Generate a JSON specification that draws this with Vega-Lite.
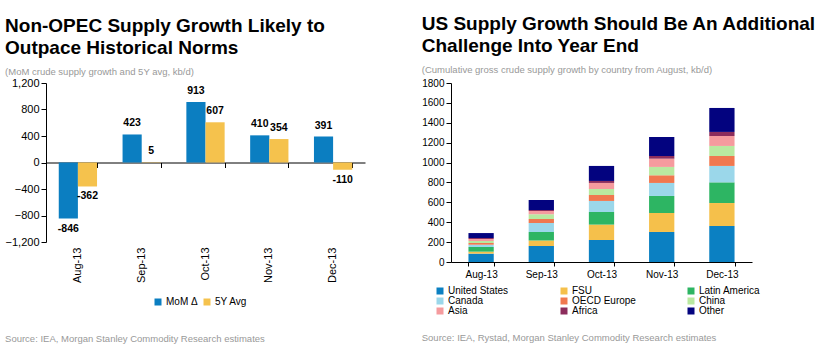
{
  "$schema": "https://vega.github.io/schema/vega-lite/v6.json",
  "background": "white",
  "padding": {"left": 5, "top": 15, "right": 2, "bottom": 2},
  "spacing": 56,
  "resolve": {"scale": {"color": "independent"}, "legend": {"color": "independent"}},
  "config": {
    "font": "Liberation Sans",
    "view": {"stroke": null},
    "axis": {"labelFont": "Liberation Sans", "labelColor": "#000", "domainColor": "#000", "tickColor": "#000", "grid": false, "title": null, "tickSize": 5, "labelPadding": 2, "labelOverlap": false},
    "legend": {"labelFont": "Liberation Sans", "labelColor": "#000", "labelFontSize": 10, "symbolType": "square", "symbolSize": 49, "symbolStrokeWidth": 0, "title": null, "labelOffset": 3},
    "title": {"font": "Liberation Sans", "fontSize": 19, "fontWeight": "bold", "color": "#000", "anchor": "start", "lineHeight": 21.5, "subtitleFont": "Liberation Sans", "subtitleFontSize": 9.5, "subtitleColor": "#999", "subtitlePadding": 9}
  },
  "hconcat": [
    {
      "title": {"text": ["Non-OPEC Supply Growth Likely to", "Outpace Historical Norms"], "subtitle": "(MoM crude supply growth and 5Y avg, kb/d)", "offset": 1},
      "vconcat": [
        {
          "width": 319,
          "height": 159,
          "title": {"text": "Source: IEA, Morgan Stanley Commodity Research estimates", "orient": "bottom", "fontSize": 9.5, "fontWeight": "normal", "color": "#999", "offset": 52},
          "data": {"values": [
            {"month": "Aug-13", "series": "MoM Δ", "value": -846},
            {"month": "Aug-13", "series": "5Y Avg", "value": -362},
            {"month": "Sep-13", "series": "MoM Δ", "value": 423},
            {"month": "Sep-13", "series": "5Y Avg", "value": 5},
            {"month": "Oct-13", "series": "MoM Δ", "value": 913},
            {"month": "Oct-13", "series": "5Y Avg", "value": 607},
            {"month": "Nov-13", "series": "MoM Δ", "value": 410},
            {"month": "Nov-13", "series": "5Y Avg", "value": 354},
            {"month": "Dec-13", "series": "MoM Δ", "value": 391},
            {"month": "Dec-13", "series": "5Y Avg", "value": -110}
          ]},
          "resolve": {"axis": {"x": "independent"}},
          "encoding": {
            "xOffset": {"field": "series", "type": "nominal", "sort": ["MoM Δ", "5Y Avg"], "scale": {"paddingInner": 0, "paddingOuter": 0}},
            "y": {"field": "value", "type": "quantitative", "stack": null, "scale": {"domain": [-1200, 1200]}, "axis": {"values": [-1200, -800, -400, 0, 400, 800, 1200], "format": ",d", "labelFontSize": 11, "labelOverlap": false}}
          },
          "layer": [
            {
              "mark": {"type": "bar"},
              "encoding": {
                "x": {"field": "month", "type": "nominal", "sort": ["Aug-13", "Sep-13", "Oct-13", "Nov-13", "Dec-13"], "scale": {"paddingInner": 0.4, "paddingOuter": 0.2}, "axis": {"orient": "bottom", "labelAngle": -90, "domain": false, "ticks": false, "labelPadding": 5, "labelFontSize": 11}},
                "color": {"field": "series", "type": "nominal", "sort": ["MoM Δ", "5Y Avg"], "scale": {"domain": ["MoM Δ", "5Y Avg"], "range": ["#0B7EC1", "#F5C24D"]}, "legend": {"orient": "none", "legendX": 107, "legendY": 214, "direction": "horizontal", "columnPadding": 4}}
              }
            },
            {
              "transform": [{"filter": "datum.value >= 0"}],
              "mark": {"type": "text", "baseline": "alphabetic", "dy": -8, "fontWeight": "bold", "fontSize": 10.5, "color": "#000"},
              "encoding": {
                "x": {"field": "month", "type": "nominal", "sort": ["Aug-13", "Sep-13", "Oct-13", "Nov-13", "Dec-13"], "axis": {"orient": "top", "offset": -79.5, "labels": false, "tickBand": "extent", "tickSize": -5, "domain": true}},
                "text": {"field": "value", "type": "quantitative", "format": "d"}
              }
            },
            {
              "transform": [{"filter": "datum.value < 0"}],
              "mark": {"type": "text", "baseline": "top", "dy": 5, "fontWeight": "bold", "fontSize": 10.5, "color": "#000"},
              "encoding": {
                "x": {"field": "month", "type": "nominal", "sort": ["Aug-13", "Sep-13", "Oct-13", "Nov-13", "Dec-13"], "axis": null},
                "text": {"field": "value", "type": "nominal"}
              }
            }
          ]
        }
      ]
    },
    {
      "title": {"text": ["US Supply Growth Should Be An Additional", "Challenge Into Year End"], "subtitle": "(Cumulative gross crude supply growth by country from August, kb/d)", "offset": 4},
      "vconcat": [
        {
          "width": 301,
          "height": 179,
          "title": {"text": "Source: IEA, Rystad, Morgan Stanley Commodity Research estimates", "orient": "bottom", "fontSize": 9.5, "fontWeight": "normal", "color": "#999", "offset": 54},
          "data": {"values": [
            {"month": "Aug-13", "region": "United States", "rank": 1, "value": 84},
            {"month": "Aug-13", "region": "FSU", "rank": 2, "value": 20},
            {"month": "Aug-13", "region": "Latin America", "rank": 3, "value": 47},
            {"month": "Aug-13", "region": "Canada", "rank": 4, "value": 23},
            {"month": "Aug-13", "region": "OECD Europe", "rank": 5, "value": 17},
            {"month": "Aug-13", "region": "China", "rank": 6, "value": 20},
            {"month": "Aug-13", "region": "Asia", "rank": 7, "value": 20},
            {"month": "Aug-13", "region": "Africa", "rank": 8, "value": 10},
            {"month": "Aug-13", "region": "Other", "rank": 9, "value": 50},
            {"month": "Sep-13", "region": "United States", "rank": 1, "value": 161},
            {"month": "Sep-13", "region": "FSU", "rank": 2, "value": 54},
            {"month": "Sep-13", "region": "Latin America", "rank": 3, "value": 87},
            {"month": "Sep-13", "region": "Canada", "rank": 4, "value": 90},
            {"month": "Sep-13", "region": "OECD Europe", "rank": 5, "value": 41},
            {"month": "Sep-13", "region": "China", "rank": 6, "value": 46},
            {"month": "Sep-13", "region": "Asia", "rank": 7, "value": 34},
            {"month": "Sep-13", "region": "Africa", "rank": 8, "value": 10},
            {"month": "Sep-13", "region": "Other", "rank": 9, "value": 101},
            {"month": "Oct-13", "region": "United States", "rank": 1, "value": 221},
            {"month": "Oct-13", "region": "FSU", "rank": 2, "value": 155},
            {"month": "Oct-13", "region": "Latin America", "rank": 3, "value": 127},
            {"month": "Oct-13", "region": "Canada", "rank": 4, "value": 111},
            {"month": "Oct-13", "region": "OECD Europe", "rank": 5, "value": 60},
            {"month": "Oct-13", "region": "China", "rank": 6, "value": 60},
            {"month": "Oct-13", "region": "Asia", "rank": 7, "value": 61},
            {"month": "Oct-13", "region": "Africa", "rank": 8, "value": 20},
            {"month": "Oct-13", "region": "Other", "rank": 9, "value": 151},
            {"month": "Nov-13", "region": "United States", "rank": 1, "value": 302},
            {"month": "Nov-13", "region": "FSU", "rank": 2, "value": 191},
            {"month": "Nov-13", "region": "Latin America", "rank": 3, "value": 171},
            {"month": "Nov-13", "region": "Canada", "rank": 4, "value": 131},
            {"month": "Nov-13", "region": "OECD Europe", "rank": 5, "value": 77},
            {"month": "Nov-13", "region": "China", "rank": 6, "value": 84},
            {"month": "Nov-13", "region": "Asia", "rank": 7, "value": 83},
            {"month": "Nov-13", "region": "Africa", "rank": 8, "value": 27},
            {"month": "Nov-13", "region": "Other", "rank": 9, "value": 191},
            {"month": "Dec-13", "region": "United States", "rank": 1, "value": 362},
            {"month": "Dec-13", "region": "FSU", "rank": 2, "value": 231},
            {"month": "Dec-13", "region": "Latin America", "rank": 3, "value": 208},
            {"month": "Dec-13", "region": "Canada", "rank": 4, "value": 165},
            {"month": "Dec-13", "region": "OECD Europe", "rank": 5, "value": 100},
            {"month": "Dec-13", "region": "China", "rank": 6, "value": 101},
            {"month": "Dec-13", "region": "Asia", "rank": 7, "value": 100},
            {"month": "Dec-13", "region": "Africa", "rank": 8, "value": 41},
            {"month": "Dec-13", "region": "Other", "rank": 9, "value": 241}
          ]},
          "mark": {"type": "bar"},
          "encoding": {
            "x": {"field": "month", "type": "nominal", "sort": ["Aug-13", "Sep-13", "Oct-13", "Nov-13", "Dec-13"], "scale": {"paddingInner": 0.58, "paddingOuter": 0.29}, "axis": {"labelAngle": 0, "tickBand": "extent", "tickSize": 4, "labelFontSize": 10, "labelPadding": 3}},
            "y": {"field": "value", "type": "quantitative", "stack": "zero", "scale": {"domain": [0, 1800]}, "axis": {"values": [0, 200, 400, 600, 800, 1000, 1200, 1400, 1600, 1800], "format": "d", "labelFontSize": 10}},
            "order": {"field": "rank", "type": "quantitative", "sort": "ascending"},
            "color": {"field": "region", "type": "nominal", "sort": ["United States", "FSU", "Latin America", "Canada", "OECD Europe", "China", "Asia", "Africa", "Other"], "scale": {"domain": ["United States", "FSU", "Latin America", "Canada", "OECD Europe", "China", "Asia", "Africa", "Other"], "range": ["#0B80C2", "#F5C04B", "#2DB563", "#9BD7EA", "#F0784F", "#B9E9A0", "#F59B9E", "#8C2D5C", "#03037F"]}, "legend": {"orient": "none", "legendX": -16, "legendY": 203, "columns": 3, "direction": "horizontal", "columnPadding": 50, "rowPadding": -7}}
          }
        }
      ]
    }
  ]
}
